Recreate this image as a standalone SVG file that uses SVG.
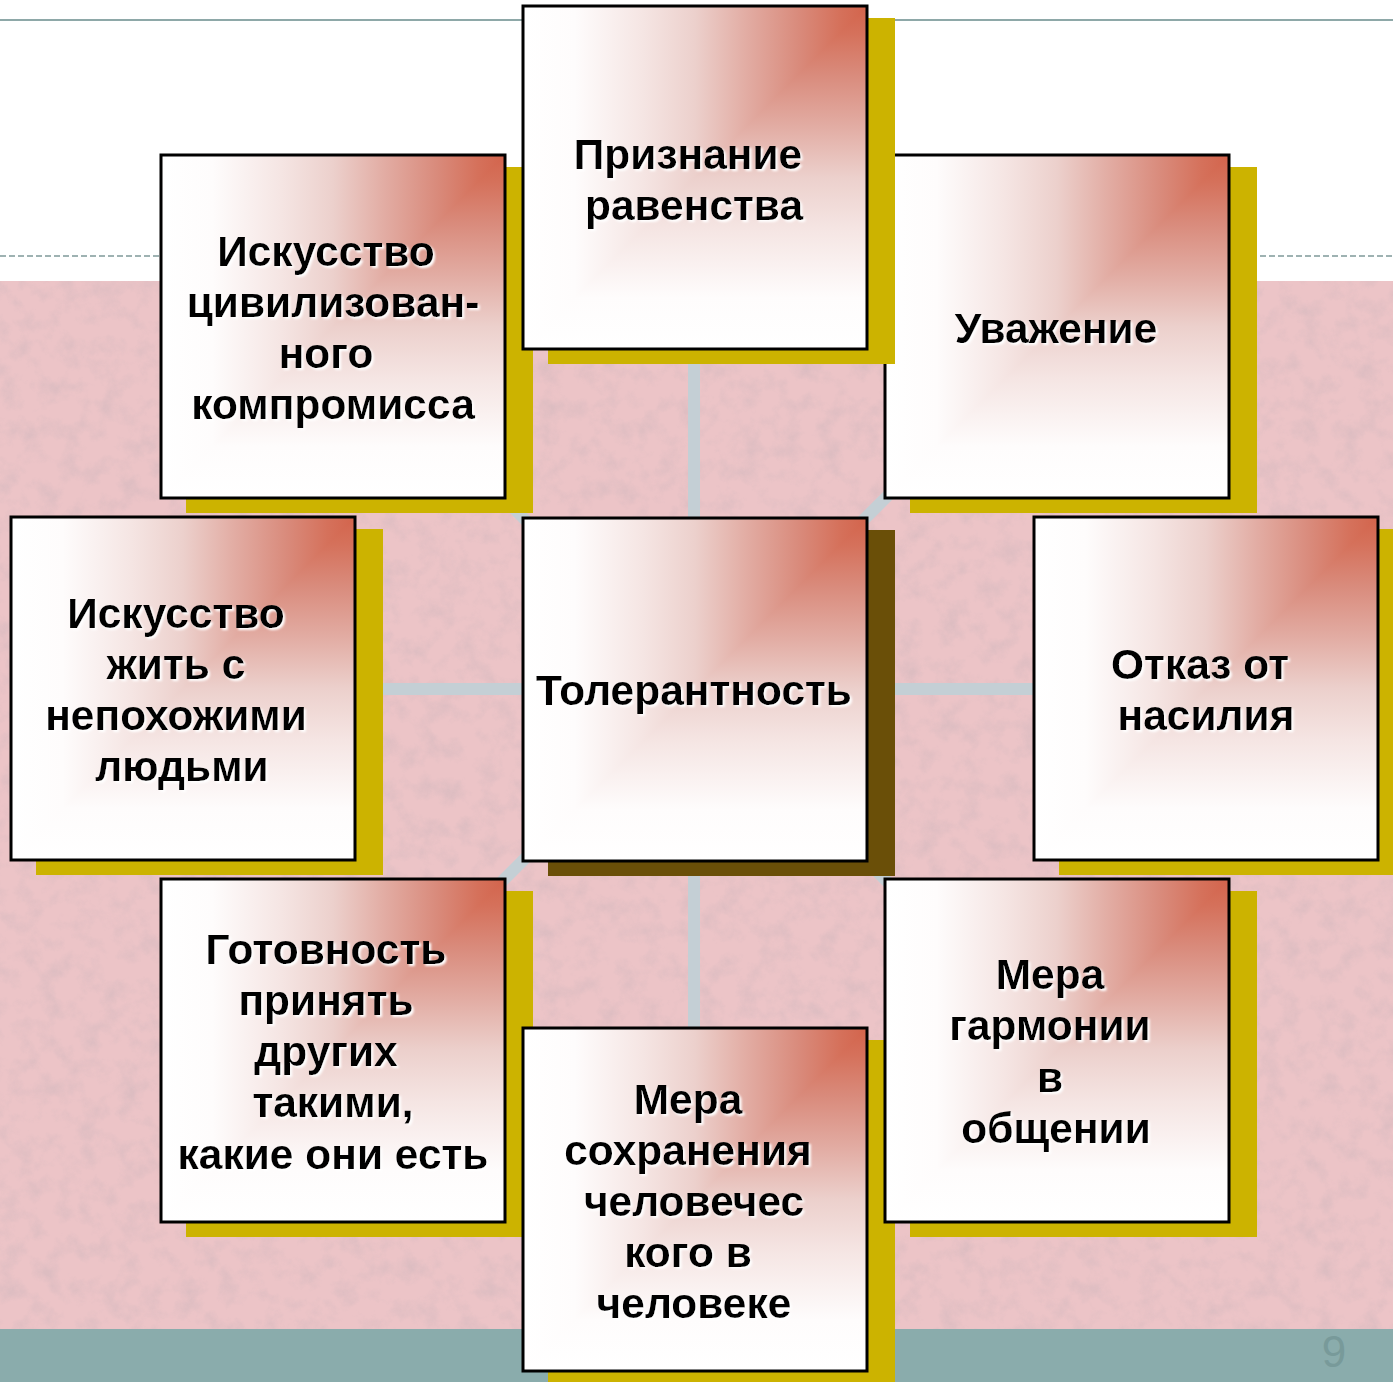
<svg xmlns="http://www.w3.org/2000/svg" xmlns:xlink="http://www.w3.org/1999/xlink" width="1393" height="1382" viewBox="0 0 1393 1382">
<style>
.t{font-family:"Liberation Sans",Arial,sans-serif;font-weight:bold;font-size:42.5px;fill:#000;text-anchor:middle;filter:url(#ts)}
.sh{fill:#ccb300}
.shc{fill:#6a4f08}
.con{stroke:#c4cfd5;stroke-width:12;fill:none}
</style>
<defs>
<linearGradient id="gh" x1="0" y1="0" x2="1" y2="0">
<stop offset="0" stop-color="#ffffff"/>
<stop offset="0.15" stop-color="#fefcfc"/>
<stop offset="0.35" stop-color="#f5e5e3"/>
<stop offset="0.5" stop-color="#ecd0cc"/>
<stop offset="0.65" stop-color="#e2aca3"/>
<stop offset="0.8" stop-color="#d98b7c"/>
<stop offset="0.92" stop-color="#d5715b"/>
<stop offset="1" stop-color="#d3644c"/>
</linearGradient>
<linearGradient id="gv" x1="0" y1="0" x2="0" y2="1">
<stop offset="0" stop-color="#d3644c"/>
<stop offset="0.08" stop-color="#d5715b"/>
<stop offset="0.2" stop-color="#d98b7c"/>
<stop offset="0.35" stop-color="#e2aca3"/>
<stop offset="0.5" stop-color="#ecd0cc"/>
<stop offset="0.65" stop-color="#f5e5e3"/>
<stop offset="0.85" stop-color="#fefcfc"/>
<stop offset="1" stop-color="#ffffff"/>
</linearGradient>
<filter id="ts" x="-10%" y="-30%" width="120%" height="160%">
<feDropShadow dx="2" dy="2" stdDeviation="0.8" flood-color="#ffffff" flood-opacity="1"/>
</filter>
<filter id="tex" x="0" y="0" width="1" height="1">
<feTurbulence type="fractalNoise" baseFrequency="0.05" numOctaves="4" seed="7"/>
<feColorMatrix values="0 0 0 0 0.70 0 0 0 0 0.50 0 0 0 0 0.53 2.2 0 0 0 -0.95"/>
</filter>
<g id="body">
<rect width="344" height="343" fill="url(#gh)"/>
<polygon points="344,0 344,343 0,343" fill="url(#gv)"/>
<rect width="344" height="343" fill="none" stroke="#000" stroke-width="3"/>
</g>
</defs>
<g id="background">
<rect width="1393" height="1382" fill="#ffffff"/>
<line x1="0" y1="20" x2="1393" y2="20" stroke="#8ea8a8" stroke-width="2"/>
<line x1="0" y1="256" x2="1393" y2="256" stroke="#7f9999" stroke-width="1.5" stroke-dasharray="6,3"/>
<rect x="0" y="281" width="1393" height="1048" fill="#ecc4c7"/>
<rect x="0" y="281" width="1393" height="1048" filter="url(#tex)" opacity="0.8"/>
<rect x="0" y="1329" width="1393" height="53" fill="#8aacac"/>
<text x="1334" y="1367" font-family="'Liberation Sans',Arial,sans-serif" font-size="44" fill="#789a9a" text-anchor="middle">9</text>
</g>
<g id="connectors">
<line class="con" x1="694" y1="689" x2="694" y2="177"/>
<line class="con" x1="694" y1="689" x2="694" y2="1200"/>
<line class="con" x1="183" y1="689" x2="1206" y2="689"/>
<line class="con" x1="694" y1="689" x2="333" y2="327"/>
<line class="con" x1="694" y1="689" x2="1057" y2="327"/>
<line class="con" x1="694" y1="689" x2="333" y2="1051"/>
<line class="con" x1="694" y1="689" x2="1057" y2="1051"/>
</g>
<g id="node-uvazhenie">
<rect class="sh" x="910" y="167" width="347" height="346"/>
<use xlink:href="#body" href="#body" x="885" y="155"/>
<text class="t" x="1056" y="343">Уважение</text>
</g>
<g id="node-kompromiss">
<rect class="sh" x="186" y="167" width="347" height="346"/>
<use xlink:href="#body" href="#body" x="161" y="155"/>
<text class="t"><tspan x="326" y="266">Искусство</tspan><tspan x="333" y="317">цивилизован-</tspan><tspan x="326" y="368">ного</tspan><tspan x="333" y="419">компромисса</tspan></text>
</g>
<g id="node-ravenstvo">
<rect class="sh" x="548" y="18" width="347" height="346"/>
<use xlink:href="#body" href="#body" x="523" y="6"/>
<text class="t"><tspan x="688" y="169">Признание</tspan><tspan x="694" y="220">равенства</tspan></text>
</g>
<g id="node-zhit">
<rect class="sh" x="36" y="529" width="347" height="346"/>
<use xlink:href="#body" href="#body" x="11" y="517"/>
<text class="t"><tspan x="176" y="628">Искусство</tspan><tspan x="176" y="679">жить с</tspan><tspan x="176" y="730">непохожими</tspan><tspan x="182" y="781">людьми</tspan></text>
</g>
<g id="node-tolerantnost">
<rect class="shc" x="548" y="530" width="347" height="346"/>
<use xlink:href="#body" href="#body" x="523" y="518"/>
<text class="t" x="694" y="705">Толерантность</text>
</g>
<g id="node-otkaz">
<rect class="sh" x="1059" y="529" width="347" height="346"/>
<use xlink:href="#body" href="#body" x="1034" y="517"/>
<text class="t"><tspan x="1200" y="679">Отказ от</tspan><tspan x="1206" y="730">насилия</tspan></text>
</g>
<g id="node-gotovnost">
<rect class="sh" x="186" y="891" width="347" height="346"/>
<use xlink:href="#body" href="#body" x="161" y="879"/>
<text class="t"><tspan x="326" y="964">Готовность</tspan><tspan x="326" y="1015">принять</tspan><tspan x="326" y="1066">других</tspan><tspan x="333" y="1117">такими,</tspan><tspan x="333" y="1169">какие они есть</tspan></text>
</g>
<g id="node-chelovek">
<rect class="sh" x="548" y="1040" width="347" height="346"/>
<use xlink:href="#body" href="#body" x="523" y="1028"/>
<text class="t"><tspan x="688" y="1114">Мера</tspan><tspan x="688" y="1165">сохранения</tspan><tspan x="694" y="1216">человечес</tspan><tspan x="688" y="1267">кого в</tspan><tspan x="694" y="1318">человеке</tspan></text>
</g>
<g id="node-garmonia">
<rect class="sh" x="910" y="891" width="347" height="346"/>
<use xlink:href="#body" href="#body" x="885" y="879"/>
<text class="t"><tspan x="1050" y="989">Мера</tspan><tspan x="1050" y="1040">гармонии</tspan><tspan x="1050" y="1092">в</tspan><tspan x="1056" y="1143">общении</tspan></text>
</g>
</svg>
